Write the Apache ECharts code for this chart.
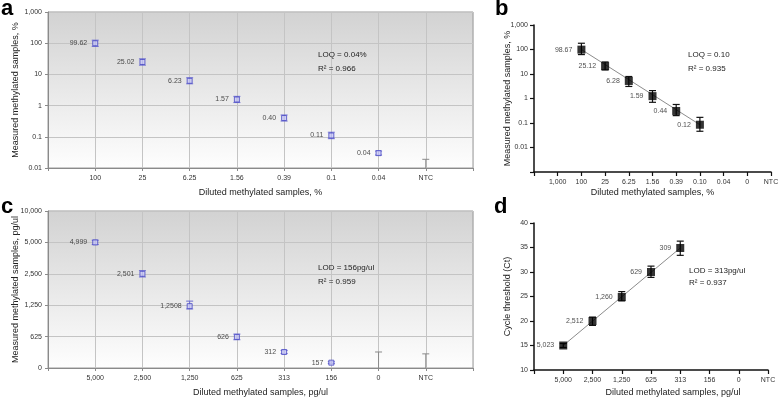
<!DOCTYPE html>
<html>
<head>
<meta charset="utf-8">
<script src="https://cdn.jsdelivr.net/npm/echarts@6/dist/echarts.min.js"></script>
<style>
html, body { margin: 0; padding: 0; background: #fff; }
#main { width: 778px; height: 400px; }
</style>
</head>
<body>
<div id="main"></div>
<script>
// panel a - measured vs diluted, %
var aCats = [' ', '100', '25', '6.25', '1.56', '0.39', '0.1', '0.04', 'NTC', '  ']
var aYTicks = ['0.01', '0.1', '1', '10', '100', '1,000']
var aPts = ['100', '25', '6.25', '1.56', '0.39', '0.1', '0.04']
var aVals = [99.62, 25.02, 6.23, 1.57, 0.40, 0.11, 0.03]
var aLow = [79, 19.8, 5.0, 1.25, 0.32, 0.087, 0.026]
var aHigh = [125, 31.5, 7.8, 1.98, 0.5, 0.14, 0.035]
var aLabels = ['99.62', '25.02', '6.23', '1.57', '0.40', '0.11', '0.04']
var aNtc = [['NTC', 0.01, 0.019]]

// panel b
var bCats = [' ', '1,000', '100', '25', '6.25', '1.56', '0.39', '0.10', '0.04', '0', 'NTC']
var bYTicks = ['', '0.01', '0.1', '1', '10', '100', '1,000']
var bPts = ['100', '25', '6.25', '1.56', '0.39', '0.10']
var bVals = [98.67, 21, 5.2, 1.25, 0.31, 0.085]
var bLow = [62, 14.6, 3.1, 0.7, 0.2, 0.046]
var bHigh = [180, 31, 7.9, 2.1, 0.57, 0.17]
var bLabels = ['98.67', '25.12', '6.28', '1.59', '0.44', '0.12']
var bFit = [['100', 100], ['0.10', 0.085]]

// panel c - pg/ul, y axis in dilution steps
var cCats = [' ', '5,000', '2,500', '1,250', '625', '313', '156', '0', 'NTC', '  ']
var cYTicks = ['0', '625', '1,250', '2,500', '5,000', '10,000']
var cPts = ['5,000', '2,500', '1,250', '625', '313', '156']
var cLevel = [4, 3, 1.97, 0.99, 0.51, 0.17]
var cLow = [3.93, 2.9, 1.88, 0.9, 0.46, 0.14]
var cHigh = [4.07, 3.1, 2.13, 1.08, 0.56, 0.2]
var cLabels = ['4,999', '2,501', '1,2508', '626', '312', '157']
var cNtc = [['0', 0, 0.51], ['NTC', 0, 0.45]]

// panel d - Ct
var dCats = [' ', '5,000', '2,500', '1,250', '625', '313', '156', '0', 'NTC']
var dPts = ['5,000', '2,500', '1,250', '625', '313']
var dVals = [15, 20, 24.9, 30, 34.9]
var dLow = [14.6, 19.1, 24.1, 28.9, 33.4]
var dHigh = [15.4, 20.8, 26, 31.2, 36.3]
var dLabels = ['5,023', '2,512', '1,260', '629', '309']
var dFit = [['5,000', 15], ['313', 34.9]]

var chart = echarts.init(document.getElementById('main'))

function zip(cats, vals) {
  return cats.map(function (c, i) { return [c, vals[i]] })
}
function zip3(cats, lo, hi) {
  return cats.map(function (c, i) { return [c, lo[i], hi[i]] })
}

//误差线
function errBar(color, capHalf, lw, topOnly) {
  return function (params, api) {
    var lo = api.coord([api.value(0), api.value(1)])
    var hi = api.coord([api.value(0), api.value(2)])
    var x = lo[0]
    var st = { stroke: color, lineWidth: lw }
    var kids = [
      { type: 'line', shape: { x1: x, y1: lo[1], x2: x, y2: hi[1] }, style: st },
      { type: 'line', shape: { x1: x - capHalf, y1: hi[1], x2: x + capHalf, y2: hi[1] }, style: st }
    ]
    if (!topOnly) {
      kids.push({ type: 'line', shape: { x1: x - capHalf, y1: lo[1], x2: x + capHalf, y2: lo[1] }, style: st })
    }
    return { type: 'group', children: kids }
  }
}

var bg = new echarts.graphic.LinearGradient(0, 0, 0, 1, [
  { offset: 0, color: '#d2d2d2' },
  { offset: 1, color: '#fefefe' }
])

var grayAxis = {
  axisLine: { show: true, lineStyle: { color: '#8a8a8a', width: 1 } },
  axisTick: { show: true, length: 3, lineStyle: { color: '#8a8a8a' } },
  splitLine: { show: true, lineStyle: { color: '#c4c4c4', width: 1 } }
}
var blackAxis = {
  axisLine: { show: true, lineStyle: { color: '#111', width: 1.5 } },
  axisTick: { show: true, length: 4, lineStyle: { color: '#111', width: 1.2 } },
  splitLine: { show: false }
}
var labelStyle = { fontSize: 7, color: '#333' }
var nameStyle = { fontSize: 9, color: '#222' }

function xCat(grid, cats, base, name, gap, extra) {
  return Object.assign({
    type: 'category', gridIndex: grid, data: cats, boundaryGap: false,
    name: name, nameLocation: 'middle', nameGap: gap, nameMoveOverlap: false,
    nameTextStyle: Object.assign({}, nameStyle, extra || {}),
    axisLabel: Object.assign({ interval: 0, margin: 7 }, labelStyle)
  }, base, { axisTick: Object.assign({ interval: 0 }, base.axisTick) })
}

var ptLabel = function (arr) {
  return {
    show: true, position: 'left', distance: 5, fontSize: 7, color: '#222',
    formatter: function (p) { return arr[p.dataIndex] }
  }
}

function note(x, y, s) {
  return { type: 'text', left: x, top: y, z: 50, style: { text: s, fontSize: 8, fill: '#222' } }
}
function tag(x, y, s) {
  return { type: 'text', left: x, top: y, z: 50, style: { text: s, fontSize: 22, fontWeight: 'bold', fill: '#000' } }
}

var option = {
  animation: false,
  backgroundColor: '#fff',
  textStyle: { fontFamily: 'Liberation Sans, Arial, sans-serif' },
  grid: [
    { left: 48, top: 12, width: 425, height: 156, show: true, backgroundColor: bg, borderColor: '#9a9a9a', borderWidth: 1, outerBoundsMode: 'none' },
    { left: 534, top: 25, width: 237, height: 147, outerBoundsMode: 'none' },
    { left: 48, top: 211, width: 425, height: 157, show: true, backgroundColor: bg, borderColor: '#9a9a9a', borderWidth: 1, outerBoundsMode: 'none' },
    { left: 534, top: 223, width: 234, height: 147, outerBoundsMode: 'none' }
  ],
  xAxis: [
    xCat(0, aCats, grayAxis, 'Diluted methylated samples, %', 20),
    xCat(1, bCats, blackAxis, 'Diluted methylated samples, %', 16),
    xCat(2, cCats, grayAxis, 'Diluted methylated samples, pg/ul', 20),
    xCat(3, dCats, blackAxis, 'Diluted methylated samples, pg/ul', 18, { padding: [0, 0, 0, 44] })
  ],
  yAxis: [
    Object.assign({
      type: 'log', logBase: 10, gridIndex: 0, min: 0.01, max: 1000, splitNumber: 5,
      name: 'Measured methylated samples, %', nameLocation: 'middle', nameGap: 28, nameMoveOverlap: false, nameTextStyle: nameStyle,
      axisLabel: Object.assign({ margin: 6, formatter: function (v) { return aYTicks[Math.round(Math.log10(v)) + 2] } }, labelStyle)
    }, grayAxis),
    Object.assign({
      type: 'log', logBase: 10, gridIndex: 1, min: 0.001, max: 1000, splitNumber: 6,
      name: 'Measured methylated samples, %', nameLocation: 'middle', nameGap: 22, nameMoveOverlap: false, nameTextStyle: nameStyle,
      axisLabel: Object.assign({ margin: 6, formatter: function (v) { return bYTicks[Math.round(Math.log10(v)) + 3] } }, labelStyle)
    }, blackAxis),
    Object.assign({
      type: 'value', gridIndex: 2, min: 0, max: 5, interval: 1,
      name: 'Measured methylated samples, pg/ul', nameLocation: 'middle', nameGap: 28, nameMoveOverlap: false, nameTextStyle: nameStyle,
      axisLabel: Object.assign({ margin: 6, formatter: function (v) { return cYTicks[Math.round(v)] } }, labelStyle)
    }, grayAxis),
    Object.assign({
      type: 'value', gridIndex: 3, min: 10, max: 40, interval: 5,
      name: 'Cycle threshold (Ct)', nameLocation: 'middle', nameGap: 22, nameMoveOverlap: false, nameTextStyle: nameStyle,
      axisLabel: Object.assign({ margin: 6 }, labelStyle)
    }, blackAxis)
  ],
  series: [
    // a
    { type: 'custom', xAxisIndex: 0, yAxisIndex: 0, data: zip3(aPts, aLow, aHigh), encode: { x: 0, y: [1, 2] },
      renderItem: errBar('#6b6bd0', 3.5, 1), z: 3 },
    { type: 'custom', xAxisIndex: 0, yAxisIndex: 0, data: aNtc, encode: { x: 0, y: [1, 2] },
      renderItem: errBar('#8a8a8a', 3.5, 1, true), z: 3 },
    { type: 'scatter', xAxisIndex: 0, yAxisIndex: 0, data: zip(aPts, aVals), symbol: 'rect', symbolSize: 5,
      itemStyle: { color: '#c9c9f2', borderColor: '#4747c4', borderWidth: 1 }, label: ptLabel(aLabels), z: 4 },
    // b
    { type: 'line', xAxisIndex: 1, yAxisIndex: 1, data: bFit, symbol: 'none',
      lineStyle: { color: '#8c8c8c', width: 1 }, z: 2 },
    { type: 'custom', xAxisIndex: 1, yAxisIndex: 1, data: zip3(bPts, bLow, bHigh), encode: { x: 0, y: [1, 2] },
      renderItem: errBar('#111', 3.5, 1.2), z: 3 },
    { type: 'scatter', xAxisIndex: 1, yAxisIndex: 1, data: zip(bPts, bVals), symbol: 'rect', symbolSize: 8,
      itemStyle: { color: '#000' }, label: ptLabel(bLabels), z: 4 },
    // c
    { type: 'custom', xAxisIndex: 2, yAxisIndex: 2, data: zip3(cPts, cLow, cHigh), encode: { x: 0, y: [1, 2] },
      renderItem: errBar('#6b6bd0', 3.5, 1), z: 3 },
    { type: 'custom', xAxisIndex: 2, yAxisIndex: 2, data: cNtc, encode: { x: 0, y: [1, 2] },
      renderItem: errBar('#8a8a8a', 3.5, 1, true), z: 3 },
    { type: 'scatter', xAxisIndex: 2, yAxisIndex: 2, data: zip(cPts, cLevel), symbol: 'rect', symbolSize: 5,
      itemStyle: { color: '#c9c9f2', borderColor: '#4747c4', borderWidth: 1 }, label: ptLabel(cLabels), z: 4 },
    // d
    { type: 'line', xAxisIndex: 3, yAxisIndex: 3, data: dFit, symbol: 'none',
      lineStyle: { color: '#8c8c8c', width: 1 }, z: 2 },
    { type: 'custom', xAxisIndex: 3, yAxisIndex: 3, data: zip3(dPts, dLow, dHigh), encode: { x: 0, y: [1, 2] },
      renderItem: errBar('#111', 3.5, 1.2), z: 3 },
    { type: 'scatter', xAxisIndex: 3, yAxisIndex: 3, data: zip(dPts, dVals), symbol: 'rect', symbolSize: 8,
      itemStyle: { color: '#000' }, label: ptLabel(dLabels), z: 4 }
  ],
  graphic: [
    tag(1, -2, 'a'), tag(495, -2, 'b'), tag(1, 196, 'c'), tag(494, 196, 'd'),
    note(318, 51, 'LOQ = 0.04%'), note(318, 65, 'R² = 0.966'),
    note(688, 51, 'LOQ = 0.10'), note(688, 65, 'R² = 0.935'),
    note(318, 264, 'LOD = 156pg/ul'), note(318, 278, 'R² = 0.959'),
    note(689, 267, 'LOD = 313pg/ul'), note(689, 279, 'R² = 0.937')
  ]
}
chart.setOption(option)
</script>
</body>
</html>
